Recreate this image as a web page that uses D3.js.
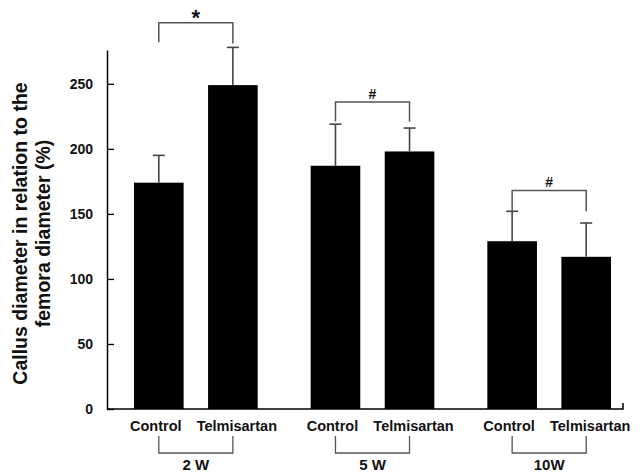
<!DOCTYPE html>
<html>
<head>
<meta charset="utf-8">
<script src="https://cdn.jsdelivr.net/npm/d3@7"></script>
<style>
  body { margin: 0; background: #fff; }
  text { font-family: Arial, "Liberation Sans", sans-serif; font-weight: bold; }
</style>
</head>
<body>
<svg width="640" height="476"></svg>
<script>
const groups = ['2 W', '5 W', '10W'];
const treatments = ['Control', 'Telmisartan'];
const controlMeans = [174, 187, 129];
const telmisartanMeans = [249, 198, 117];
const controlErr = [21, 32, 23];
const telmisartanErr = [29, 18, 26];
const yTicks = [0, 50, 100, 150, 200, 250];
const sigLabels = ['*', '#', '#'];
const sigBarY = [297, 236, 168];
const sigLegY = [[282, 281], [221, 221], [152, 152]];

const svg = d3.select('svg');
const width = +svg.attr('width');
const height = +svg.attr('height');
const margin = {top: 50, right: 17, bottom: 67, left: 107};

const data = groups.map((g, i) => ({
  group: g,
  bars: [
    {t: treatments[0], v: controlMeans[i], e: controlErr[i]},
    {t: treatments[1], v: telmisartanMeans[i], e: telmisartanErr[i]}
  ]
}));

const yScale = d3.scaleLinear()
  .domain([0, 276])
  .range([height - margin.bottom, margin.top]);

const xGroup = d3.scaleBand()
  .domain(groups)
  .range([134, 611])
  .paddingInner(0.3)
  .paddingOuter(0);

const xInner = d3.scaleBand()
  .domain(treatments)
  .range([0, xGroup.bandwidth()])
  .paddingInner(0.33)
  .paddingOuter(0);

const cx = (g, t) => xGroup(g) + xInner(t) + xInner.bandwidth() / 2;

// y axis, ticks point inward
const yAxisG = svg.append('g')
  .attr('transform', `translate(${margin.left},0)`)
  .call(d3.axisLeft(yScale).tickValues(yTicks).tickSize(-7).tickSizeOuter(0).tickPadding(14));
yAxisG.select('.domain').attr('stroke', '#000').attr('stroke-width', 1.5);
yAxisG.selectAll('.tick line').attr('stroke', '#000').attr('stroke-width', 1.3);
yAxisG.selectAll('.tick text')
  .attr('font-size', 14)
  .attr('font-family', 'Arial, "Liberation Sans", sans-serif')
  .attr('font-weight', 'bold')
  .attr('fill', '#111');

// x axis baseline
const y0 = yScale(0);
svg.append('path')
  .attr('d', `M${margin.left},${y0}H${width - margin.right}V${y0 - 6}`)
  .attr('fill', 'none')
  .attr('stroke', '#000')
  .attr('stroke-width', 1.5);

const gGroups = svg.selectAll('.grp').data(data).enter().append('g').attr('class', 'grp');

// bars
gGroups.selectAll('rect').data(d => d.bars.map(b => ({...b, g: d.group}))).enter()
  .append('rect')
  .attr('x', d => xGroup(d.g) + xInner(d.t))
  .attr('y', d => yScale(d.v))
  .attr('width', xInner.bandwidth())
  .attr('height', d => yScale(0) - yScale(d.v))
  .attr('fill', '#000');

// error bars
const errs = gGroups.selectAll('.err').data(d => d.bars.map(b => ({...b, g: d.group}))).enter()
  .append('g').attr('class', 'err').attr('stroke', '#444').attr('stroke-width', 1.6);
errs.append('line')
  .attr('x1', d => cx(d.g, d.t)).attr('x2', d => cx(d.g, d.t))
  .attr('y1', d => yScale(d.v)).attr('y2', d => yScale(d.v + d.e));
errs.append('line')
  .attr('x1', d => cx(d.g, d.t) - 6).attr('x2', d => cx(d.g, d.t) + 6)
  .attr('y1', d => yScale(d.v + d.e)).attr('y2', d => yScale(d.v + d.e));

// significance brackets
groups.forEach((g, i) => {
  const xl = cx(g, treatments[0]);
  const xr = cx(g, treatments[1]);
  svg.append('path')
    .attr('d', `M${xl},${yScale(sigLegY[i][0])}V${yScale(sigBarY[i])}H${xr}V${yScale(sigLegY[i][1])}`)
    .attr('fill', 'none')
    .attr('stroke', '#555')
    .attr('stroke-width', 1.5);
  svg.append('text')
    .attr('x', (xl + xr) / 2)
    .attr('y', yScale(sigBarY[i]) - (sigLabels[i] === '*' ? -2 : 3))
    .attr('text-anchor', 'middle')
    .attr('font-size', sigLabels[i] === '*' ? 22 : 14)
    .attr('font-weight', sigLabels[i] === '*' ? 'normal' : 'bold')
    .attr('fill', '#111')
    .text(sigLabels[i]);
});

// treatment labels
gGroups.selectAll('.tlab').data(d => d.bars.map(b => ({...b, g: d.group}))).enter()
  .append('text')
  .attr('class', 'tlab')
  .attr('x', d => cx(d.g, d.t) + (d.t === 'Telmisartan' ? 4 : -3))
  .attr('y', 431)
  .attr('text-anchor', 'middle')
  .attr('font-size', 14.5)
  .attr('fill', '#111')
  .text(d => d.t);

// group brackets and labels
groups.forEach(g => {
  const xl = cx(g, treatments[0]);
  const xr = cx(g, treatments[1]);
  svg.append('path')
    .attr('d', `M${xl},436V453H${xr}V436`)
    .attr('fill', 'none')
    .attr('stroke', '#555')
    .attr('stroke-width', 1.3);
  svg.append('text')
    .attr('x', (xl + xr) / 2)
    .attr('y', 470)
    .attr('text-anchor', 'middle')
    .attr('font-size', 15)
    .attr('fill', '#111')
    .text(g);
});

// y axis title
const yt = svg.append('text')
  .attr('transform', `translate(27, ${(80 + 387) / 2}) rotate(-90)`)
  .attr('text-anchor', 'middle')
  .attr('font-size', 19.5)
  .attr('fill', '#111');
yt.append('tspan').attr('x', 0).attr('y', 0).text('Callus diameter in relation to the');
yt.append('tspan').attr('x', 0).attr('dy', 23).text('femora diameter (%)');
</script>
</body>
</html>
